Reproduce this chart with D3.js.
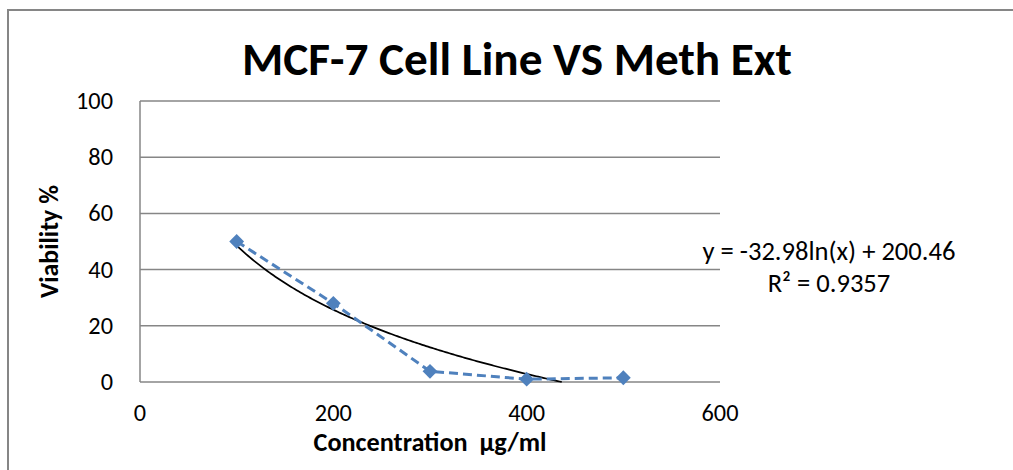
<!DOCTYPE html>
<html>
  <head>
    <!-- Load d3 -->
    <script src="https://d3js.org/d3.v7.min.js"></script>
    <style>
      body { margin: 0; background: #fff; }
      text { font-family: Carlito, Calibri, Lato, sans-serif; }
    </style>
  </head>
  <body>
    <script>

      const width = 1013;
      const height = 470;

      // data
      const concentrations = [100, 200, 300, 400, 500];
      const viability = [50, 28, 3.8, 1, 1.5];
      const xTicks = [0, 200, 400, 600];
      const yTicks = [0, 20, 40, 60, 80, 100];
      // log trendline as printed on the chart
      const trendSlope = -32.98;
      const trendIntercept = 200.46;
      const trendLabel = ["y = -32.98ln(x) + 200.46", "R\u00b2 = 0.9357"];

      const margin = {left: 140, right: 293, top: 101, bottom: 88};

      const svg = d3.select("body")
        .append("svg")
        .attr("width", width)
        .attr("height", height);

      // Calibri is not around, so size the stand-in font to the original's text widths
      const fit = function(sel, target){
        const w = sel.node().getComputedTextLength();
        const fs = parseFloat(sel.style("font-size"));
        return fs * target / w;
      };

      // outer chart border (right/bottom run off the picture)
      svg.append("rect")
        .attr("x", 8).attr("y", 10)
        .attr("width", width).attr("height", height)
        .attr("fill", "none")
        .attr("stroke", "#868686")
        .attr("stroke-width", 2);

      const xScale = d3.scaleLinear()
        .domain([0, 600])
        .range([margin.left, width - margin.right]);

      const yScale = d3.scaleLinear()
        .domain([0, 100])
        .range([height - margin.bottom, margin.top]);

      // gridlines
      svg.append("g")
        .selectAll("line")
        .data(yTicks)
        .join("line")
        .attr("x1", xScale(0))
        .attr("x2", xScale(600))
        .attr("y1", d => yScale(d))
        .attr("y2", d => yScale(d))
        .attr("stroke", "#868686")
        .attr("stroke-width", 1.5);

      // y axis line
      svg.append("line")
        .attr("x1", xScale(0)).attr("x2", xScale(0))
        .attr("y1", yScale(0)).attr("y2", yScale(100))
        .attr("stroke", "#868686")
        .attr("stroke-width", 1.5);

      // work out tick font size from the width of "100"
      const probe = svg.append("text").style("font-size", "20px").text("100");
      const tickSize = fit(probe, 37);
      probe.remove();

      // tick labels
      svg.append("g")
        .selectAll("text")
        .data(yTicks)
        .join("text")
        .attr("x", 113)
        .attr("y", d => yScale(d) + 8)
        .attr("text-anchor", "end")
        .style("font-size", tickSize + "px")
        .text(d => d);

      svg.append("g")
        .selectAll("text")
        .data(xTicks)
        .join("text")
        .attr("x", d => xScale(d))
        .attr("y", 421)
        .attr("text-anchor", "middle")
        .style("font-size", tickSize + "px")
        .text(d => d);

      // titles
      const title = svg.append("text")
        .attr("x", 517)
        .attr("y", 75)
        .attr("text-anchor", "middle")
        .style("font-size", "38px")
        .style("font-weight", "bold")
        .text("MCF-7 Cell Line VS Meth Ext");
      title.style("font-size", fit(title, 550) + "px");

      const xTitle = svg.append("text")
        .attr("x", (xScale(0) + xScale(600)) / 2)
        .attr("y", 451)
        .attr("text-anchor", "middle")
        .style("font-size", "18px")
        .style("font-weight", "bold")
        .style("white-space", "pre")
        .text("Concentration  \u00b5g/ml");
      xTitle.style("font-size", fit(xTitle, 233) + "px");

      const yTitle = svg.append("text")
        .attr("transform", `translate(58, ${(yScale(0) + yScale(100)) / 2}) rotate(-90)`)
        .attr("text-anchor", "middle")
        .style("font-size", "18px")
        .style("font-weight", "bold")
        .text("Viability %");
      yTitle.style("font-size", fit(yTitle, 113) + "px");

      // trendline, clipped at y = 0 like the original
      const xEnd = Math.exp(-trendIntercept / trendSlope);
      const trendXs = d3.range(concentrations[0], xEnd, 2).concat([xEnd]);
      const trendLine = d3.line()
        .x(d => xScale(d))
        .y(d => yScale(Math.max(0, trendSlope * Math.log(d) + trendIntercept)));

      svg.append("path")
        .datum(trendXs)
        .attr("d", trendLine)
        .attr("fill", "none")
        .attr("stroke", "#000")
        .attr("stroke-width", 1.75);

      // data series
      const series = concentrations.map((c, i) => ({x: c, y: viability[i]}));

      svg.append("path")
        .datum(series)
        .attr("d", d3.line().x(d => xScale(d.x)).y(d => yScale(d.y)))
        .attr("fill", "none")
        .attr("stroke", "#4F81BD")
        .attr("stroke-width", 3)
        .attr("stroke-dasharray", "9,5");

      svg.append("g")
        .selectAll("path")
        .data(series)
        .join("path")
        .attr("d", d3.symbol(d3.symbolSquare, 110))
        .attr("transform", d => `translate(${xScale(d.x)},${yScale(d.y)}) rotate(45)`)
        .attr("fill", "#4F81BD");

      // trendline label
      const eq = svg.append("g")
        .selectAll("text")
        .data(trendLabel)
        .join("text")
        .attr("x", 829)
        .attr("y", (d, i) => 260 + i * 32)
        .attr("text-anchor", "middle")
        .style("font-size", "20px")
        .text(d => d);
      const eqSize = fit(eq.filter((d, i) => i === 0), 253);
      eq.style("font-size", eqSize + "px");

    </script>
  </body>
</html>
